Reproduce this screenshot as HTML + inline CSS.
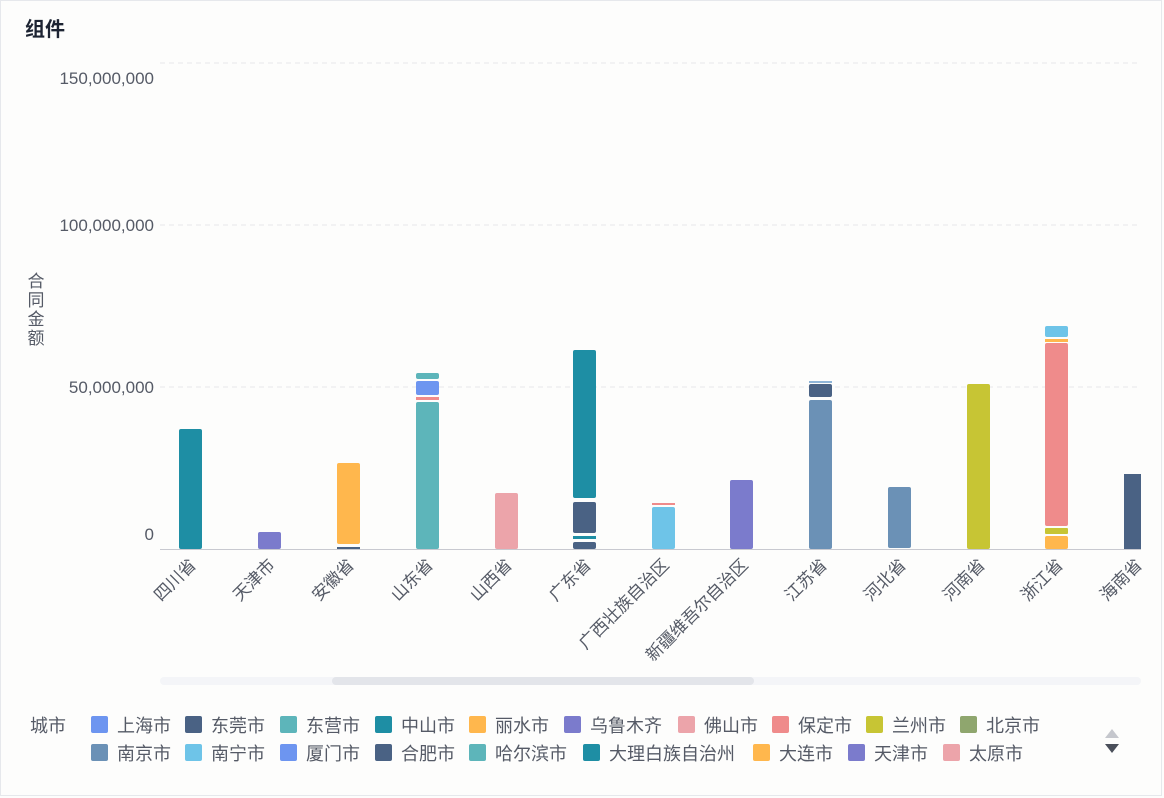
<!DOCTYPE html>
<html><head><meta charset="utf-8"><style>
body{margin:0;background:#fff;}
svg{display:block;font-family:"Liberation Sans","Noto Sans CJK SC",sans-serif;}
</style></head><body>
<svg width="1164" height="798" xmlns="http://www.w3.org/2000/svg">
<rect x="0" y="0" width="1164" height="798" fill="#fdfdfc"/>
<rect x="0.5" y="0.5" width="1161" height="795" fill="none" stroke="#e6e8ec"/>
<text x="25" y="36" font-size="20" font-weight="bold" fill="#1d2433">组件</text>
<g stroke="#e6e6ea" stroke-dasharray="5,4" stroke-width="1">
<line x1="160" y1="63" x2="1141" y2="63"/>
<line x1="160" y1="225" x2="1141" y2="225"/>
<line x1="160" y1="387" x2="1141" y2="387"/>
</g>
<line x1="160" y1="549.5" x2="1141" y2="549.5" stroke="#c8c9d0"/>
<g font-size="17" fill="#555a66" text-anchor="end">
<text x="154" y="84">150,000,000</text>
<text x="154" y="231">100,000,000</text>
<text x="154" y="393">50,000,000</text>
<text x="154" y="540">0</text>
</g>
<g font-size="17" fill="#555a66" text-anchor="middle">
<text x="36" y="287">合</text><text x="36" y="306">同</text><text x="36" y="325">金</text><text x="36" y="344">额</text>
</g>
<g>
<rect x="179" y="429" width="23" height="120" rx="2" fill="#1e8ea4"/>
<rect x="258" y="532" width="23" height="17" rx="2" fill="#7b7bcc"/>
<rect x="337" y="463" width="23" height="81" rx="2" fill="#ffb74d"/>
<rect x="337" y="547" width="23" height="2" fill="#4a6284"/>
<rect x="416" y="373" width="23" height="6" rx="2" fill="#5db5ba"/>
<rect x="416" y="381" width="23" height="14" rx="2" fill="#6d95f0"/>
<rect x="416" y="397" width="23" height="3" fill="#ef8b8b"/>
<rect x="416" y="402" width="23" height="147" rx="2" fill="#5db5ba"/>
<rect x="495" y="493" width="23" height="56" rx="2" fill="#eca4aa"/>
<rect x="573" y="350" width="23" height="148" rx="2" fill="#1e8ea4"/>
<rect x="573" y="502" width="23" height="31" rx="2" fill="#4a6284"/>
<rect x="573" y="536" width="23" height="3" fill="#1e8ea4"/>
<rect x="573" y="542" width="23" height="7" rx="2" fill="#4a6284"/>
<rect x="652" y="503" width="23" height="2" fill="#ef8b8b"/>
<rect x="652" y="507" width="23" height="42" rx="2" fill="#6ec4e8"/>
<rect x="730" y="480" width="23" height="69" rx="2" fill="#7b7bcc"/>
<rect x="809" y="381" width="23" height="2" fill="#8fb5d8"/>
<rect x="809" y="384" width="23" height="13" rx="2" fill="#4a6284"/>
<rect x="809" y="400" width="23" height="149" rx="2" fill="#6b91b6"/>
<rect x="888" y="487" width="23" height="61" rx="2" fill="#6b91b6"/>
<rect x="967" y="384" width="23" height="165" rx="2" fill="#c7c534"/>
<rect x="1045" y="326" width="23" height="11" rx="2" fill="#6ec4e8"/>
<rect x="1045" y="339" width="23" height="3" fill="#ffb74d"/>
<rect x="1045" y="343" width="23" height="183" rx="2" fill="#ef8b8b"/>
<rect x="1045" y="528" width="23" height="6" rx="1" fill="#c7c534"/>
<rect x="1045" y="536" width="23" height="13" rx="2" fill="#ffb74d"/>
<rect x="1124" y="474" width="17" height="75" fill="#4a6284"/>
</g>
<g font-size="17" fill="#555a66" text-anchor="end">
<text transform="translate(197,566) rotate(-45)">四川省</text>
<text transform="translate(276,566) rotate(-45)">天津市</text>
<text transform="translate(355,566) rotate(-45)">安徽省</text>
<text transform="translate(434,566) rotate(-45)">山东省</text>
<text transform="translate(513,566) rotate(-45)">山西省</text>
<text transform="translate(592,566) rotate(-45)">广东省</text>
<text transform="translate(670,566) rotate(-45)">广西壮族自治区</text>
<text transform="translate(749,566) rotate(-45)">新疆维吾尔自治区</text>
<text transform="translate(828,566) rotate(-45)">江苏省</text>
<text transform="translate(907,566) rotate(-45)">河北省</text>
<text transform="translate(986,566) rotate(-45)">河南省</text>
<text transform="translate(1064,566) rotate(-45)">浙江省</text>
<text transform="translate(1143,566) rotate(-45)">海南省</text>
</g>
<rect x="160" y="677" width="981" height="8" rx="4" fill="#f4f5f8"/>
<rect x="332" y="677" width="422" height="8" rx="4" fill="#e3e5ea"/>
<g font-size="18" fill="#555a66">
<text x="30" y="732">城市</text>
<rect x="91" y="716" width="17" height="17" rx="2" fill="#6d95f0"/><text x="117" y="732">上海市</text>
<rect x="185" y="716" width="17" height="17" rx="2" fill="#4a6284"/><text x="211" y="732">东莞市</text>
<rect x="280" y="716" width="17" height="17" rx="2" fill="#5db5ba"/><text x="306" y="732">东营市</text>
<rect x="375" y="716" width="17" height="17" rx="2" fill="#1e8ea4"/><text x="401" y="732">中山市</text>
<rect x="469" y="716" width="17" height="17" rx="2" fill="#ffb74d"/><text x="495" y="732">丽水市</text>
<rect x="564" y="716" width="17" height="17" rx="2" fill="#7b7bcc"/><text x="590" y="732">乌鲁木齐</text>
<rect x="678" y="716" width="17" height="17" rx="2" fill="#eca4aa"/><text x="704" y="732">佛山市</text>
<rect x="772" y="716" width="17" height="17" rx="2" fill="#ef8b8b"/><text x="798" y="732">保定市</text>
<rect x="866" y="716" width="17" height="17" rx="2" fill="#c7c534"/><text x="892" y="732">兰州市</text>
<rect x="960" y="716" width="17" height="17" rx="2" fill="#8fa66e"/><text x="986" y="732">北京市</text>
<rect x="91" y="744" width="17" height="17" rx="2" fill="#6b91b6"/><text x="117" y="760">南京市</text>
<rect x="185" y="744" width="17" height="17" rx="2" fill="#6ec4e8"/><text x="211" y="760">南宁市</text>
<rect x="280" y="744" width="17" height="17" rx="2" fill="#6d95f0"/><text x="306" y="760">厦门市</text>
<rect x="375" y="744" width="17" height="17" rx="2" fill="#4a6284"/><text x="401" y="760">合肥市</text>
<rect x="469" y="744" width="17" height="17" rx="2" fill="#5db5ba"/><text x="495" y="760">哈尔滨市</text>
<rect x="583" y="744" width="17" height="17" rx="2" fill="#1e8ea4"/><text x="609" y="760">大理白族自治州</text>
<rect x="753" y="744" width="17" height="17" rx="2" fill="#ffb74d"/><text x="779" y="760">大连市</text>
<rect x="848" y="744" width="17" height="17" rx="2" fill="#7b7bcc"/><text x="874" y="760">天津市</text>
<rect x="943" y="744" width="17" height="17" rx="2" fill="#eca4aa"/><text x="969" y="760">太原市</text>
</g>
<polygon points="1105,738 1119,738 1112,729" fill="#c5c7cd"/>
<polygon points="1105,744 1119,744 1112,753" fill="#4a4f5a"/>
</svg>
</body></html>
